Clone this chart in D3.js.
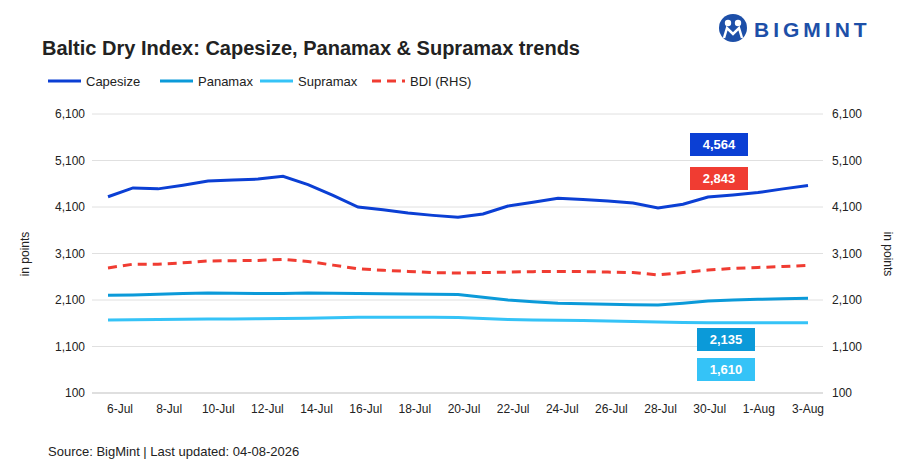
<!DOCTYPE html>
<html lang="en">
<head>
<meta charset="UTF-8">
<script src="https://d3js.org/d3.v7.min.js"></script>
<style>
  body { margin: 0; background: #fff; font-family: "Liberation Sans", Arial, sans-serif; }
  text { fill: #222; }
</style>
</head>
<body>
<svg id="chart" width="911" height="471"></svg>
<script>
// one entry per day, 6-Jul .. 3-Aug
const days = ["6-Jul","7-Jul","8-Jul","9-Jul","10-Jul","11-Jul","12-Jul","13-Jul","14-Jul","15-Jul",
  "16-Jul","17-Jul","18-Jul","19-Jul","20-Jul","21-Jul","22-Jul","23-Jul","24-Jul","25-Jul",
  "26-Jul","27-Jul","28-Jul","29-Jul","30-Jul","31-Jul","1-Aug","2-Aug","3-Aug"];
const capesize = [4320,4510,4490,4570,4660,4680,4700,4760,4580,4350,4100,4040,3970,3920,3880,3950,4120,4200,4290,4260,
  4230,4185,4080,4160,4315,4360,4410,4490,4564];
const panamax = [2200,2210,2225,2240,2250,2245,2240,2240,2250,2245,2240,2235,2230,2225,2220,2160,2100,2060,2030,2020,
  2010,2000,1990,2030,2080,2100,2115,2125,2135];
const supramax = [1670,1675,1680,1685,1690,1692,1695,1700,1710,1720,1730,1730,1730,1728,1725,1700,1680,1670,1665,1658,
  1650,1635,1625,1615,1610,1610,1610,1610,1610];
const bdi = [2790,2870,2870,2900,2940,2945,2950,2975,2930,2850,2770,2740,2715,2690,2680,2690,2700,2710,2715,2710,
  2700,2690,2640,2690,2745,2780,2800,2820,2843];
const yTicks = [100,1100,2100,3100,4100,5100,6100];
const tickLabels = ["6-Jul","8-Jul","10-Jul","12-Jul","14-Jul","16-Jul","18-Jul","20-Jul","22-Jul","24-Jul","26-Jul","28-Jul","30-Jul","1-Aug","3-Aug"];

const series = [
  { name: "Capesize", values: capesize, color: "#0b3fd4", dash: null },
  { name: "Panamax", values: panamax, color: "#0b9ad9", dash: null },
  { name: "Supramax", values: supramax, color: "#35c3f7", dash: null },
  { name: "BDI (RHS)", values: bdi, color: "#f03c32", dash: "9,6" }
];

const svg = d3.select("#chart");
const plotL = 92, plotR = 823, plotT = 114, plotB = 393;

const x = d3.scalePoint().domain(days).range([108, 808]);
const y = d3.scaleLinear().domain([100, 6100]).range([plotB, plotT]);
const fmt = d3.format(",");

// title
svg.append("text").attr("x", 42).attr("y", 55).attr("font-size", 20).attr("font-weight", "bold")
  .text("Baltic Dry Index: Capesize, Panamax & Supramax trends");

// logo
const logo = svg.append("g").attr("transform", "translate(733,28)");
logo.append("circle").attr("r", 14).attr("fill", "#1d4fa8");
logo.append("circle").attr("cx", -5).attr("cy", -5).attr("r", 3.2).attr("fill", "#fff");
logo.append("circle").attr("cx", 5).attr("cy", -5).attr("r", 3.2).attr("fill", "#fff");
logo.append("path").attr("d", "M-9,10 L-6,0 L0,6 L6,0 L9,10").attr("fill", "none").attr("stroke", "#fff").attr("stroke-width", 2.5);
svg.append("text").attr("x", 754).attr("y", 37).attr("font-size", 21).attr("font-weight", "bold")
  .attr("letter-spacing", 4).style("fill", "#1d4fa8").text("BIGMINT");

// legend
const lx = [48, 160, 260, 372];
series.forEach((s, i) => {
  svg.append("line").attr("x1", lx[i]).attr("x2", lx[i] + 33).attr("y1", 81).attr("y2", 81)
    .attr("stroke", s.color).attr("stroke-width", 3).attr("stroke-dasharray", s.dash);
  svg.append("text").attr("x", lx[i] + 38).attr("y", 86).attr("font-size", 13).text(s.name);
});

// gridlines and axes labels
yTicks.forEach(t => {
  svg.append("line").attr("x1", plotL).attr("x2", plotR).attr("y1", y(t)).attr("y2", y(t))
    .attr("stroke", t === 100 ? "#bfbfbf" : "#e0e0e0").attr("stroke-width", 1);
  svg.append("text").attr("x", 85).attr("y", y(t) + 4).attr("text-anchor", "end").attr("font-size", 12).text(fmt(t));
  svg.append("text").attr("x", 832).attr("y", y(t) + 4).attr("font-size", 12).text(fmt(t));
});
tickLabels.forEach((d, i) => {
  const px = 120 + i * (808 - 120) / (tickLabels.length - 1);
  svg.append("text").attr("x", px).attr("y", 413).attr("text-anchor", "middle").attr("font-size", 12).text(d);
});
svg.append("text").attr("transform", "translate(29,254) rotate(-90)").attr("text-anchor", "middle")
  .attr("font-size", 12).text("in points");
svg.append("text").attr("transform", "translate(884,254) rotate(90)").attr("text-anchor", "middle")
  .attr("font-size", 12).text("in points");

// lines
const line = d3.line().x((d, i) => x(days[i])).y(d => y(d));
series.forEach(s => {
  svg.append("path").datum(s.values).attr("d", line).attr("fill", "none")
    .attr("stroke", s.color).attr("stroke-width", 3).attr("stroke-dasharray", s.dash);
});

// value labels
const boxes = [
  { v: capesize[capesize.length - 1], color: "#0b3fd4", x: 690, y: 133 },
  { v: bdi[bdi.length - 1], color: "#f03c32", x: 690, y: 167 },
  { v: panamax[panamax.length - 1], color: "#0b9ad9", x: 697, y: 328 },
  { v: supramax[supramax.length - 1], color: "#35c3f7", x: 697, y: 358 }
];
boxes.forEach(b => {
  svg.append("rect").attr("x", b.x).attr("y", b.y).attr("width", 58).attr("height", 23).attr("fill", b.color);
  svg.append("text").attr("x", b.x + 29).attr("y", b.y + 16).attr("text-anchor", "middle")
    .attr("font-size", 13).attr("font-weight", "bold").style("fill", "#fff").text(fmt(b.v));
});

svg.append("text").attr("x", 48).attr("y", 456).attr("font-size", 13)
  .text("Source: BigMint | Last updated: 04-08-2026");
</script>
</body>
</html>
